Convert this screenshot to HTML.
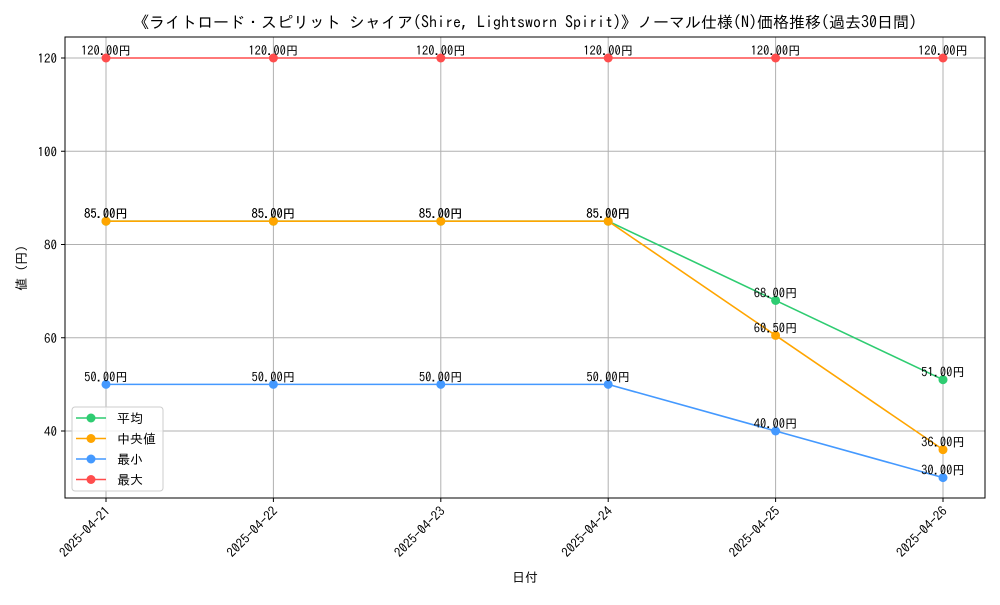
<!DOCTYPE html>
<html><head><meta charset="utf-8"><style>
body{margin:0;background:#fff}
svg text{font-family:"IPAGothic","Noto Sans CJK JP",sans-serif;fill:#000}
</style></head><body>
<svg id="c" width="1000" height="600"></svg>
<script>
const dates=["2025-04-21","2025-04-22","2025-04-23","2025-04-24","2025-04-25","2025-04-26"];
const avgVals=[85,85,85,85,68,51];
const medVals=[85,85,85,85,60.5,36];
const minVals=[50,50,50,50,40,30];
const maxVals=[120,120,120,120,120,120];
const yTicks=[40,60,80,100,120];
const seriesNames=["平均","中央値","最小","最大"];
const L=65,R=985,T=37,B=498;
const x0=106,x1=943;
function xs(i){return x0+(x1-x0)*i/(dates.length-1);}
function ys(v){return 58+(120-v)*(431-58)/80;}
const NS="http://www.w3.org/2000/svg";
const svg=document.getElementById('c');
function mk(t,a,txt){const e=document.createElementNS(NS,t);for(const k in a)e.setAttribute(k,a[k]);if(txt!=null)e.textContent=txt;svg.appendChild(e);return e;}
let e;
e=mk('text',{x:525,y:28,'text-anchor':'middle','font-size':16},'《ライトロード・スピリット シャイア(Shire, Lightsworn Spirit)》ノーマル仕様(N)価格推移(過去30日間)');


yTicks.forEach(v=>{
 e=mk('line',{x1:L,x2:R,y1:ys(v),y2:ys(v),stroke:'#b0b0b0','stroke-width':1});
 
 
 mk('line',{x1:L-4,x2:L,y1:ys(v),y2:ys(v),stroke:'#000'});
 e=mk('text',{x:L-8,y:ys(v)+5,'text-anchor':'end','font-size':13},String(v));
 
 
});
dates.forEach((d,i)=>{
 e=mk('line',{x1:xs(i),x2:xs(i),y1:T,y2:B,stroke:'#b0b0b0','stroke-width':1});
 
 
 mk('line',{x1:xs(i),x2:xs(i),y1:B,y2:B+4,stroke:'#000'});
 e=mk('text',{x:xs(i)+5,y:B+14,'text-anchor':'end','font-size':13,transform:`rotate(-45 ${xs(i)+5} ${B+14})`},d);
 
 
});
e=mk('rect',{x:L,y:T,width:R-L,height:B-T,fill:'none',stroke:'#000','stroke-width':1});


e=mk('text',{x:525,y:582,'text-anchor':'middle','font-size':13},'日付');


e=mk('text',{x:26,y:268,'text-anchor':'middle','font-size':13,transform:'rotate(-90 26 268)'},'値 (円)');


const series=[[avgVals,'#2ecc71','avg'],[medVals,'#ffa500','median'],[minVals,'#4499ff','min'],[maxVals,'#ff4d4d','max']];
series.forEach(([vals,col,nm])=>{
 e=mk('polyline',{points:vals.map((v,i)=>xs(i)+','+ys(v)).join(' '),fill:'none',stroke:col,'stroke-width':1.6});
 
 
 vals.forEach((v,i)=>{
  e=mk('circle',{cx:xs(i),cy:ys(v),r:4.5,fill:col});
  
  
  e=mk('text',{x:xs(i),y:ys(v)-3,'text-anchor':'middle','font-size':12.5},v.toFixed(2)+'円');
  
  
 });
});
e=mk('rect',{x:72,y:407,width:91,height:84,rx:3,fill:'#fff','fill-opacity':0.8,stroke:'#ccc'});


series.forEach(([vals,col,nm],k)=>{
 const y=418+k*20.5;
 e=mk('line',{x1:76,x2:106,y1:y,y2:y,stroke:col,'stroke-width':1.6});
 
 
 mk('circle',{cx:91,cy:y,r:4.5,fill:col});
 e=mk('text',{x:117,y:y+5,'font-size':13},seriesNames[k]);
 
 
});
</script>
</body></html>
